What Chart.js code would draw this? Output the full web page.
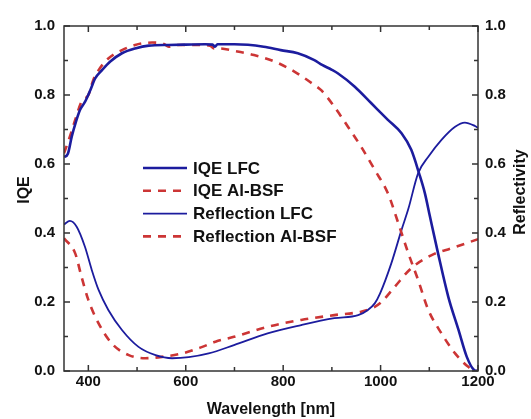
<!DOCTYPE html>
<html>
<head>
<meta charset="utf-8">
<script src="https://cdn.jsdelivr.net/npm/chart.js@4/dist/chart.umd.min.js"></script>
<style>
  body { margin: 0; background: #fff; }
  canvas { display: block; }
</style>
</head>
<body>
<canvas id="chart" width="531" height="419"></canvas>
<script>
// wavelength [nm] / value pairs
const iqeLfcNm = [350, 358, 366, 374, 383, 393, 404, 414, 428, 445, 469, 496, 524, 565, 600, 640, 655, 660, 665, 700, 760, 795, 830, 864, 880, 900, 912, 947, 981, 1015, 1043, 1063, 1079, 1091, 1101, 1118, 1139, 1160, 1177, 1192, 1200];
const iqeLfc = [0.62, 0.63, 0.68, 0.72, 0.757, 0.78, 0.814, 0.848, 0.872, 0.897, 0.921, 0.935, 0.943, 0.945, 0.946, 0.947, 0.946, 0.94, 0.947, 0.947, 0.94, 0.93, 0.921, 0.901, 0.887, 0.873, 0.863, 0.824, 0.776, 0.728, 0.689, 0.641, 0.573, 0.515, 0.45, 0.341, 0.215, 0.119, 0.041, 0.003, 0];

const iqeBsfNm = [350, 362, 373, 386, 400, 410, 421, 441, 469, 496, 531, 555, 565, 580, 630, 650, 658, 668, 699, 740, 782, 823, 864, 878, 905, 933, 960, 988, 1015, 1036, 1057, 1077, 1098, 1125, 1153, 1180, 1194, 1200];
const iqeBsf = [0.631, 0.679, 0.728, 0.781, 0.8, 0.843, 0.872, 0.906, 0.93, 0.945, 0.952, 0.948, 0.94, 0.945, 0.945, 0.943, 0.935, 0.935, 0.928, 0.916, 0.897, 0.868, 0.829, 0.814, 0.766, 0.708, 0.65, 0.583, 0.515, 0.43, 0.341, 0.264, 0.177, 0.109, 0.051, 0.012, 0, 0];

const reflLfcNm = [350, 362, 376, 393, 407, 421, 441, 469, 503, 538, 572, 606, 647, 699, 768, 837, 905, 954, 974, 988, 999, 1022, 1043, 1057, 1077, 1098, 1125, 1153, 1173, 1194, 1200];
const reflLfc = [0.425, 0.435, 0.418, 0.36, 0.293, 0.235, 0.177, 0.119, 0.07, 0.046, 0.037, 0.04, 0.051, 0.075, 0.109, 0.133, 0.153, 0.162, 0.177, 0.196, 0.225, 0.312, 0.409, 0.47, 0.573, 0.621, 0.67, 0.708, 0.72, 0.71, 0.705];

const reflBsfNm = [350, 373, 386, 400, 421, 448, 483, 517, 551, 593, 634, 661, 699, 768, 837, 905, 960, 988, 1002, 1029, 1063, 1105, 1146, 1200];
const reflBsf = [0.385, 0.341, 0.273, 0.206, 0.138, 0.08, 0.046, 0.037, 0.041, 0.051, 0.07, 0.085, 0.099, 0.128, 0.148, 0.162, 0.172, 0.186, 0.2, 0.244, 0.298, 0.336, 0.356, 0.382];

const seriesNames = ["IQE LFC", "IQE Al-BSF", "Reflection LFC", "Reflection Al-BSF"];
const xMajorTicks = [400, 600, 800, 1000, 1200];
const xMinorTicks = [500, 700, 900, 1100];
const yMajorTicks = [0, 0.2, 0.4, 0.6, 0.8, 1.0];
const yMinorTicks = [0.1, 0.3, 0.5, 0.7, 0.9];

const BLUE = "#1c1c9e";
const RED = "#cc3535";
const FONT = "'Liberation Sans', Arial, sans-serif";

const toPoints = (xs, ys) => xs.map((x, i) => ({ x: x, y: ys[i] }));

// frame, inward ticks, right axis title and the in-plot legend
const framePlugin = {
  id: "frame",
  afterDatasetsDraw(chart) {
    const ctx = chart.ctx;
    const a = chart.chartArea;
    const sx = chart.scales.x, sy = chart.scales.y;
    ctx.save();
    ctx.strokeStyle = "#333";
    ctx.lineWidth = 1.5;
    ctx.strokeRect(a.left, a.top, a.right - a.left, a.bottom - a.top);
    ctx.beginPath();
    const tick = (vals, len) => {
      vals.forEach(v => {
        const px = sx.getPixelForValue(v);
        ctx.moveTo(px, a.bottom); ctx.lineTo(px, a.bottom - len);
        ctx.moveTo(px, a.top); ctx.lineTo(px, a.top + len);
      });
    };
    const ytick = (vals, len) => {
      vals.forEach(v => {
        const py = sy.getPixelForValue(v);
        ctx.moveTo(a.left, py); ctx.lineTo(a.left + len, py);
        ctx.moveTo(a.right, py); ctx.lineTo(a.right - len, py);
      });
    };
    tick(xMajorTicks, 6);
    tick(xMinorTicks, 4);
    ytick(yMajorTicks, 6);
    ytick(yMinorTicks, 4);
    ctx.stroke();
    ctx.restore();
  },
  afterDraw(chart) {
    const ctx = chart.ctx;
    const a = chart.chartArea;
    ctx.save();
    ctx.fillStyle = "#111";
    ctx.font = "bold 16px " + FONT;
    ctx.textAlign = "center";
    ctx.textBaseline = "middle";
    // axis titles, both reading bottom to top
    ctx.translate(25, 190);
    ctx.rotate(-Math.PI / 2);
    ctx.fillText("IQE", 0, 0);
    ctx.restore();
    ctx.save();
    ctx.fillStyle = "#111";
    ctx.font = "bold 16px " + FONT;
    ctx.textAlign = "center";
    ctx.textBaseline = "middle";
    ctx.translate(521, 192);
    ctx.rotate(-Math.PI / 2);
    ctx.fillText("Reflectivity", 0, 0);
    ctx.restore();

    // legend
    ctx.save();
    ctx.font = "bold 17px " + FONT;
    ctx.textBaseline = "middle";
    ctx.textAlign = "left";
    chart.data.datasets.forEach((ds, i) => {
      const y = 168 + i * 22.8;
      ctx.beginPath();
      ctx.strokeStyle = ds.borderColor;
      ctx.lineWidth = ds.borderWidth;
      ctx.setLineDash(ds.borderDash || []);
      ctx.moveTo(143, y);
      ctx.lineTo(187, y);
      ctx.stroke();
      ctx.setLineDash([]);
      ctx.fillStyle = "#111";
      ctx.fillText(ds.label, 193, y + 1);
    });
    ctx.restore();
  }
};

const ctx = document.getElementById("chart").getContext("2d");
const myChart = new Chart(ctx, {
  type: "line",
  data: {
    datasets: [
      {
        label: seriesNames[0],
        data: toPoints(iqeLfcNm, iqeLfc),
        borderColor: BLUE,
        borderWidth: 2.6,
        yAxisID: "y",
      },
      {
        label: seriesNames[1],
        data: toPoints(iqeBsfNm, iqeBsf),
        borderColor: RED,
        borderWidth: 2.6,
        borderDash: [8, 7],
        yAxisID: "y",
      },
      {
        label: seriesNames[2],
        data: toPoints(reflLfcNm, reflLfc),
        borderColor: BLUE,
        borderWidth: 1.8,
        yAxisID: "y1",
      },
      {
        label: seriesNames[3],
        data: toPoints(reflBsfNm, reflBsf),
        borderColor: RED,
        borderWidth: 2.6,
        borderDash: [8, 7],
        yAxisID: "y1",
      },
    ],
  },
  options: {
    responsive: false,
    animation: false,
    layout: { padding: { top: 26, left: 0, right: 0, bottom: 0 } },
    elements: {
      point: { radius: 0 },
      line: { cubicInterpolationMode: "monotone", fill: false },
    },
    plugins: {
      legend: { display: false },
      tooltip: { enabled: false },
    },
    scales: {
      x: {
        type: "linear",
        min: 350,
        max: 1200,
        grid: { display: false, drawTicks: false },
        border: { display: false },
        ticks: {
          stepSize: 200,
          includeBounds: false,
          padding: 2,
          color: "#111",
          font: { family: FONT, size: 15, weight: "bold" },
          callback: v => v,
        },
        title: {
          display: true,
          text: "Wavelength [nm]",
          color: "#111",
          padding: 0,
          font: { family: FONT, size: 16, weight: "bold" },
        },
        afterFit: s => { s.height = 48; },
      },
      y: {
        position: "left",
        min: 0,
        max: 1,
        grid: { display: false, drawTicks: false },
        border: { display: false },
        ticks: {
          stepSize: 0.2,
          padding: 9,
          color: "#111",
          font: { family: FONT, size: 15, weight: "bold" },
          callback: v => v.toFixed(1),
        },
        afterFit: s => { s.width = 64; },
      },
      y1: {
        position: "right",
        min: 0,
        max: 1,
        grid: { display: false, drawTicks: false },
        border: { display: false },
        ticks: {
          stepSize: 0.2,
          padding: 7,
          color: "#111",
          font: { family: FONT, size: 15, weight: "bold" },
          callback: v => v.toFixed(1),
        },
        afterFit: s => { s.width = 53; },
      },
    },
  },
  plugins: [framePlugin],
});
</script>
</body>
</html>
